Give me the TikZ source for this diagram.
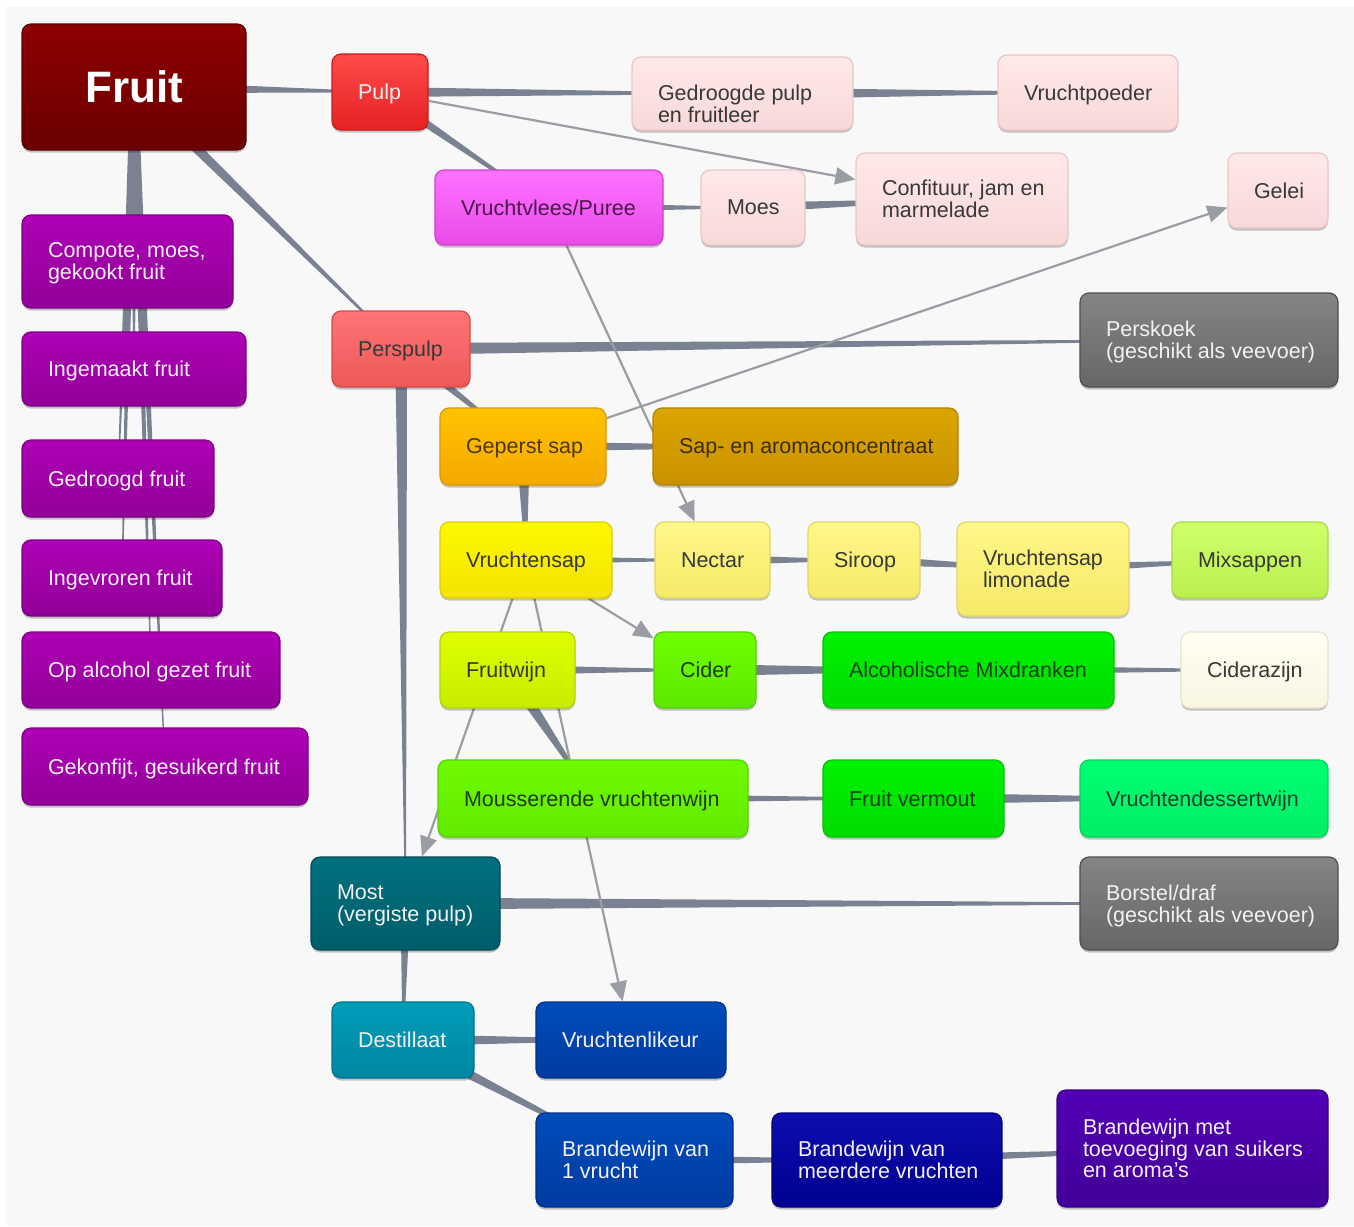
\documentclass[tikz,border=0pt]{standalone}
\usepackage{fontspec}
\setmainfont{Liberation Sans}
\usetikzlibrary{calc,shadows,arrows.meta}
\pgfdeclarelayer{bg}
\pgfsetlayers{bg,main}
\definecolor{fruitT}{HTML}{8E0000}\definecolor{fruitB}{HTML}{6A0000}\definecolor{fruitD}{HTML}{5A0000}
\definecolor{pulpT}{HTML}{FF4A4A}\definecolor{pulpB}{HTML}{E42222}\definecolor{pulpD}{HTML}{C91C1C}
\definecolor{pinkT}{HTML}{FFE9E9}\definecolor{pinkB}{HTML}{F8D8D8}\definecolor{pinkD}{HTML}{E9C7C7}
\definecolor{magT}{HTML}{FF73FF}\definecolor{magB}{HTML}{E84AE8}\definecolor{magD}{HTML}{D23ED2}
\definecolor{persT}{HTML}{FF7474}\definecolor{persB}{HTML}{EE5858}\definecolor{persD}{HTML}{D24C4C}
\definecolor{grayT}{HTML}{858585}\definecolor{grayB}{HTML}{666666}\definecolor{grayD}{HTML}{4F4F4F}
\definecolor{purT}{HTML}{AE00B6}\definecolor{purB}{HTML}{920098}\definecolor{purD}{HTML}{7E0086}
\definecolor{orT}{HTML}{FFC300}\definecolor{orB}{HTML}{F5A900}\definecolor{orD}{HTML}{DE9A00}
\definecolor{goldT}{HTML}{DBA600}\definecolor{goldB}{HTML}{C99200}\definecolor{goldD}{HTML}{B08200}
\definecolor{yelT}{HTML}{FFF800}\definecolor{yelB}{HTML}{F2E500}\definecolor{yelD}{HTML}{DCCF00}
\definecolor{lyT}{HTML}{FFF788}\definecolor{lyB}{HTML}{F6EA6A}\definecolor{lyD}{HTML}{E2D668}
\definecolor{lgT}{HTML}{CFFF6A}\definecolor{lgB}{HTML}{BAF04E}\definecolor{lgD}{HTML}{A8DA48}
\definecolor{ygT}{HTML}{DEFF00}\definecolor{ygB}{HTML}{C8EC00}\definecolor{ygD}{HTML}{B4D400}
\definecolor{ciT}{HTML}{70FF00}\definecolor{ciB}{HTML}{5EE800}\definecolor{ciD}{HTML}{54D000}
\definecolor{grT}{HTML}{00F200}\definecolor{grB}{HTML}{00DC00}\definecolor{grD}{HTML}{00C400}
\definecolor{crT}{HTML}{FFFFF2}\definecolor{crB}{HTML}{F8F6E2}\definecolor{crD}{HTML}{E6E4CC}
\definecolor{moT}{HTML}{70FA00}\definecolor{moB}{HTML}{62EA00}\definecolor{moD}{HTML}{56D200}
\definecolor{mnT}{HTML}{00FF73}\definecolor{mnB}{HTML}{00EE66}\definecolor{mnD}{HTML}{00D45A}
\definecolor{tlT}{HTML}{00717F}\definecolor{tlB}{HTML}{005D6A}\definecolor{tlD}{HTML}{004A55}
\definecolor{cyT}{HTML}{009DB9}\definecolor{cyB}{HTML}{0086A2}\definecolor{cyD}{HTML}{00758E}
\definecolor{blT}{HTML}{004CBB}\definecolor{blB}{HTML}{003BA0}\definecolor{blD}{HTML}{00318A}
\definecolor{nvT}{HTML}{0D0DAE}\definecolor{nvB}{HTML}{000090}\definecolor{nvD}{HTML}{00007A}
\definecolor{viT}{HTML}{5200B5}\definecolor{viB}{HTML}{430098}\definecolor{viD}{HTML}{380082}
\definecolor{darktxt}{HTML}{383838}
\definecolor{lighttxt}{HTML}{F4F0F4}
\definecolor{conncol}{HTML}{7A8292}
\definecolor{arrcol}{HTML}{9B9DA5}
\definecolor{panel}{HTML}{F8F8F8}
\tikzset{
  nb/.style={rectangle, rounded corners=9pt, inner sep=0pt, line width=1.2pt,
    font=\fontsize{21.5}{21}\selectfont,
    drop shadow={shadow xshift=0pt, shadow yshift=-2.5pt, opacity=0.22, fill=black}},
  cgrad/.style n args={3}{top color=#1, bottom color=#2, draw=#3},
  cFruit/.style={cgrad={fruitT}{fruitB}{fruitD}, text=white, font=\bfseries\fontsize{44}{44}\selectfont},
  cPulp/.style={cgrad={pulpT}{pulpB}{pulpD}, text=lighttxt},
  cPink/.style={cgrad={pinkT}{pinkB}{pinkD}, text=darktxt},
  cMag/.style={cgrad={magT}{magB}{magD}, text={rgb,255:red,80;green,20;blue,80}},
  cPers/.style={cgrad={persT}{persB}{persD}, text=darktxt},
  cGray/.style={cgrad={grayT}{grayB}{grayD}, text=lighttxt},
  cPurp/.style={cgrad={purT}{purB}{purD}, text=lighttxt},
  cOrange/.style={cgrad={orT}{orB}{orD}, text={rgb,255:red,80;green,55;blue,10}},
  cGold/.style={cgrad={goldT}{goldB}{goldD}, text={rgb,255:red,60;green,45;blue,10}},
  cYellow/.style={cgrad={yelT}{yelB}{yelD}, text=darktxt},
  cLY/.style={cgrad={lyT}{lyB}{lyD}, text=darktxt},
  cLG/.style={cgrad={lgT}{lgB}{lgD}, text=darktxt},
  cYG/.style={cgrad={ygT}{ygB}{ygD}, text=darktxt},
  cCider/.style={cgrad={ciT}{ciB}{ciD}, text={rgb,255:red,30;green,60;blue,20}},
  cGreen/.style={cgrad={grT}{grB}{grD}, text={rgb,255:red,25;green,65;blue,25}},
  cCream/.style={cgrad={crT}{crB}{crD}, text=darktxt},
  cMous/.style={cgrad={moT}{moB}{moD}, text={rgb,255:red,30;green,60;blue,20}},
  cMint/.style={cgrad={mnT}{mnB}{mnD}, text={rgb,255:red,25;green,65;blue,40}},
  cTeal/.style={cgrad={tlT}{tlB}{tlD}, text=lighttxt},
  cCyan/.style={cgrad={cyT}{cyB}{cyD}, text=lighttxt},
  cBlue/.style={cgrad={blT}{blB}{blD}, text=lighttxt},
  cNavy/.style={cgrad={nvT}{nvB}{nvD}, text=lighttxt},
  cViolet/.style={cgrad={viT}{viB}{viD}, text=lighttxt},
  conn/.style={fill=conncol},
  arr/.style={draw=arrcol, line width=2.2pt, -{Triangle[length=20pt,width=17pt]}},
}
\def\nraise{-3pt}
\newcommand\mkn[7]{%
  \pgfmathsetmacro\nw{#5-#3}\pgfmathsetmacro\nh{#6-#4}\pgfmathsetmacro\tw{#5-#3-46}%
  \pgfmathsetmacro\ncx{(#3+#5)/2}\pgfmathsetmacro\ncy{(#4+#6)/2}%
  \node[nb,#2,minimum width=\nw pt,minimum height=\nh pt] (#1) at (\ncx,\ncy)
    {\makebox[\tw pt][l]{\hspace{3pt}\raisebox{\nraise}[\height][\depth]{\begin{tabular}{@{}l@{}}#7\end{tabular}}}};}
\newcommand\tp[4]{\fill[conn] ($(#1)!#3pt!90:(#2)$) -- ($(#2)!#4pt!-90:(#1)$) -- ($(#2)!#4pt!90:(#1)$) -- ($(#1)!#3pt!-90:(#2)$) -- cycle;}
\begin{document}
\begin{tikzpicture}[x=1pt,y=-1pt]
\begin{pgfonlayer}{bg}
\fill[white] (0,0) rectangle (1354,1226);
\fill[panel] (6,7) rectangle (1354,1226);
\end{pgfonlayer}
\useasboundingbox (0,0) rectangle (1354,1226);
% nodes
\node[nb,cFruit,minimum width=224pt,minimum height=126pt] (fruit) at (134,87) {Fruit};
\mkn{pulp}{cPulp}{332}{54}{428}{130}{Pulp}
\def\nraise{-13pt}
\mkn{gpulp}{cPink}{632}{57}{853}{130}{Gedroogde pulp\\en fruitleer}
\def\nraise{-3pt}
\mkn{poeder}{cPink}{998}{55}{1178}{130}{Vruchtpoeder}
\mkn{vlees}{cMag}{435}{170}{663}{245}{Vruchtvlees/Puree}
\mkn{moes}{cPink}{701}{170}{805}{245}{Moes}
\mkn{conf}{cPink}{856}{153}{1068}{245}{Confituur, jam en\\marmelade}
\mkn{gelei}{cPink}{1228}{153}{1328}{228}{Gelei}
\mkn{comp}{cPurp}{22}{215}{233}{308}{Compote, moes,\\gekookt fruit}
\mkn{inge}{cPurp}{22}{332}{246}{406}{Ingemaakt fruit}
\mkn{gedr}{cPurp}{22}{440}{214}{517}{Gedroogd fruit}
\mkn{ingev}{cPurp}{22}{540}{222}{616}{Ingevroren fruit}
\mkn{alco}{cPurp}{22}{632}{280}{708}{Op alcohol gezet fruit}
\mkn{gekon}{cPurp}{22}{728}{308}{805}{Gekonfijt, gesuikerd fruit}
\mkn{pers}{cPers}{332}{311}{470}{387}{Perspulp}
\mkn{koek}{cGray}{1080}{293}{1338}{387}{Perskoek\\(geschikt als veevoer)}
\mkn{gsap}{cOrange}{440}{408}{606}{485}{Geperst sap}
\mkn{conc}{cGold}{653}{408}{958}{485}{Sap- en aromaconcentraat}
\mkn{vsap}{cYellow}{440}{522}{612}{598}{Vruchtensap}
\mkn{nect}{cLY}{655}{522}{770}{598}{Nectar}
\mkn{sir}{cLY}{808}{522}{920}{598}{Siroop}
\mkn{lim}{cLY}{957}{522}{1129}{616}{Vruchtensap\\limonade}
\mkn{mix}{cLG}{1172}{522}{1328}{598}{Mixsappen}
\mkn{wijn}{cYG}{440}{632}{575}{708}{Fruitwijn}
\mkn{cider}{cCider}{654}{632}{756}{708}{Cider}
\mkn{amix}{cGreen}{823}{632}{1114}{708}{Alcoholische Mixdranken}
\mkn{azijn}{cCream}{1181}{632}{1328}{708}{Ciderazijn}
\mkn{mous}{cMous}{438}{760}{748}{837}{Mousserende vruchtenwijn}
\mkn{verm}{cGreen}{823}{760}{1004}{837}{Fruit vermout}
\mkn{dess}{cMint}{1080}{760}{1328}{837}{Vruchtendessertwijn}
\mkn{most}{cTeal}{311}{857}{500}{950}{Most\\(vergiste pulp)}
\mkn{borst}{cGray}{1080}{857}{1338}{950}{Borstel/draf\\(geschikt als veevoer)}
\mkn{dest}{cCyan}{332}{1002}{474}{1078}{Destillaat}
\mkn{likeur}{cBlue}{536}{1002}{726}{1078}{Vruchtenlikeur}
\mkn{bwa}{cBlue}{536}{1113}{733}{1207}{Brandewijn van\\1 vrucht}
\mkn{bwm}{cNavy}{772}{1113}{1002}{1207}{Brandewijn van\\meerdere vruchten}
\mkn{bwt}{cViolet}{1057}{1090}{1328}{1207}{Brandewijn met\\toevoeging van suikers\\en aroma's}
% connectors
\begin{pgfonlayer}{bg}
\tp{fruit}{pulp}{6}{0.5}
\tp{fruit}{pers}{6}{0.5}
\tp{fruit}{comp}{5}{0.5}
\tp{fruit}{inge}{5}{0.5}
\tp{fruit}{gedr}{4}{0.5}
\tp{fruit}{ingev}{4}{0.5}
\tp{fruit}{alco}{4}{0.5}
\tp{fruit}{gekon}{4}{0.5}
\tp{pulp}{gpulp}{5}{0.5}
\tp{gpulp}{poeder}{6}{0.5}
\tp{pulp}{vlees}{5}{0.5}
\tp{vlees}{moes}{5}{0.5}
\tp{moes}{conf}{5}{0.5}
\tp{pers}{koek}{6}{0.5}
\tp{pers}{gsap}{5}{0.5}
\tp{pers}{most}{6}{0.5}
\tp{gsap}{conc}{5}{0.5}
\tp{gsap}{vsap}{7}{0.5}
\tp{vsap}{nect}{4}{0.5}
\tp{nect}{sir}{5}{0.5}
\tp{sir}{lim}{5}{0.5}
\tp{lim}{mix}{5}{0.5}
\tp{wijn}{cider}{5}{0.5}
\tp{wijn}{mous}{7}{0.5}
\tp{cider}{amix}{6}{0.5}
\tp{amix}{azijn}{5}{0.5}
\tp{mous}{verm}{5}{0.5}
\tp{verm}{dess}{6}{0.5}
\tp{most}{borst}{6}{0.5}
\tp{most}{dest}{5}{0.5}
\tp{dest}{likeur}{6}{0.5}
\tp{dest}{bwa}{6}{0.5}
\tp{bwa}{bwm}{5}{0.5}
\tp{bwm}{bwt}{5}{0.5}
\draw[arr] (pulp) -- (conf);
\draw[arr] (vlees) -- (nect);
\draw[arr] (gsap) -- (gelei);
\draw[arr] (vsap) -- (cider);
\draw[arr] (vsap) -- (most);
\draw[arr] (vsap) -- (likeur);
\end{pgfonlayer}
\end{tikzpicture}
\end{document}
